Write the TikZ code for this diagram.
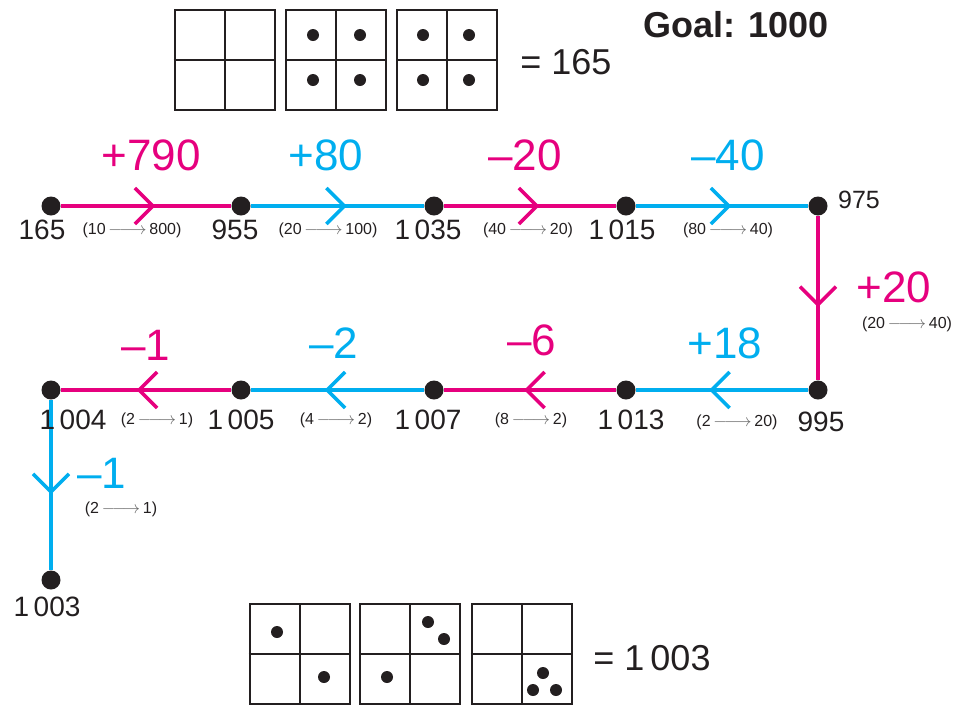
\documentclass[tikz,border=0pt]{standalone}
\usepackage{fontspec}
\setmainfont{Liberation Sans}
\usetikzlibrary{decorations.markings}
\definecolor{pinkc}{HTML}{E6007E}
\definecolor{bluec}{HTML}{00AEEF}
\definecolor{dotc}{HTML}{231F20}
\newcommand{\sarr}{\,\textcolor{black!60}{$\relbar\joinrel\longrightarrow$}\,}
\begin{document}
\begin{tikzpicture}[x=1pt,y=-1pt,
  dot/.style={circle,fill=dotc,inner sep=0pt,minimum size=19pt},
  bdot/.style={circle,fill=dotc,inner sep=0pt,minimum size=12pt},
  num/.style={font=\fontsize{28}{30}\selectfont, inner sep=0pt, text=dotc},
  big/.style={font=\fontsize{44}{46}\selectfont, inner sep=0pt},
  small/.style={font=\fontsize{16}{18}\selectfont, inner sep=0pt, text=dotc},
  seg/.style args={#1/#2}{line width=4pt, draw=#1, postaction={decorate},
    decoration={markings, mark=at position #2 with {\draw[#1, line width=3.5pt] (-18pt,18pt) -- (0pt,0pt) -- (-18pt,-18pt);}}},
  box/.style={draw=dotc, line width=2pt, minimum size=100pt, inner sep=0pt},
  cross/.style={draw=dotc, line width=2pt}
]
\useasboundingbox (0,0) rectangle (959,705);

% top boxes
\foreach \n/\cx in {a/224.5,b/336,c/447}{
  \node[box] (t\n) at (\cx,60) {};
  \draw[cross] (t\n.north) -- (t\n.south);
  \draw[cross] (t\n.west) -- (t\n.east);
}
\foreach \x/\y in {313/35,360/35,313/80,360/80,423/35,469/35,423/80,469/80}
  \node[bdot] at (\x,\y) {};
\node[font=\fontsize{36}{38}\selectfont, text=dotc, inner sep=0pt] (eq1) at (566,62) {= 165};
\node[font=\bfseries\fontsize{36}{38}\selectfont, text=dotc, inner sep=0pt] (goal) at (736,25) {Goal: 1000};

% bottom boxes
\foreach \n/\cx in {a/299.5,b/410,c/521.5}{
  \node[box] (b\n) at (\cx,654) {};
  \draw[cross] (b\n.north) -- (b\n.south);
  \draw[cross] (b\n.west) -- (b\n.east);
}
\foreach \x/\y in {277/632,324/677,428/622,444/639,387/677,543/673,533/690,556/690}
  \node[bdot] at (\x,\y) {};
\node[font=\fontsize{36}{38}\selectfont, text=dotc, inner sep=0pt] (eq2) at (652,658) {= 1\,003};

% dots
\node[dot] (p1) at (51,206) {};
\node[dot] (p2) at (241,206) {};
\node[dot] (p3) at (434,206) {};
\node[dot] (p4) at (626,206) {};
\node[dot] (p5) at (818,206) {};
\node[dot] (q1) at (818,390) {};
\node[dot] (q2) at (626,390) {};
\node[dot] (q3) at (434,390) {};
\node[dot] (q4) at (241,390) {};
\node[dot] (q5) at (51,390) {};
\node[dot] (r1) at (51,580) {};

% segments
\draw[seg=pinkc/0.54] (p1) -- (p2);
\draw[seg=bluec/0.54] (p2) -- (p3);
\draw[seg=pinkc/0.54] (p3) -- (p4);
\draw[seg=bluec/0.54] (p4) -- (p5);
\draw[seg=pinkc/0.54] (p5) -- (q1);
\draw[seg=bluec/0.56] (q1) -- (q2);
\draw[seg=pinkc/0.52] (q2) -- (q3);
\draw[seg=bluec/0.56] (q3) -- (q4);
\draw[seg=pinkc/0.54] (q4) -- (q5);
\draw[seg=bluec/0.54] (q5) -- (r1);

% big labels
\node[big, text=pinkc] (l1) at (151,155) {+790};
\node[big, text=bluec] (l2) at (326,155) {+80};
\node[big, text=pinkc] (l3) at (525,155) {–20};
\node[big, text=bluec] (l4) at (728,155) {–40};
\node[big, text=pinkc] (l5) at (894,287) {+20};
\node[big, text=bluec] (l6) at (725,343) {+18};
\node[big, text=pinkc] (l7) at (532,340) {–6};
\node[big, text=bluec] (l8) at (334,343) {–2};
\node[big, text=pinkc] (l9) at (146,345) {–1};
\node[big, text=bluec] (l10) at (102,473) {–1};

% numbers
\node[num] (n1) at (42,230) {165};
\node[num] (n2) at (235,230) {955};
\node[num] (n3) at (428,230) {1\,035};
\node[num] (n4) at (622,230) {1\,015};
\node[num, font=\fontsize{25}{27}\selectfont] (n5) at (859,200) {975};
\node[num] (n6) at (821,422) {995};
\node[num] (n7) at (631,420) {1\,013};
\node[num] (n8) at (428,420) {1\,007};
\node[num] (n9) at (241,420) {1\,005};
\node[num] (n10) at (73,420) {1\,004};
\node[num] (n11) at (47,607) {1\,003};

% small labels
\node[small] (s1) at (132,230) {(10\sarr 800)};
\node[small] (s2) at (328,230) {(20\sarr 100)};
\node[small] (s3) at (528,230) {(40\sarr 20)};
\node[small] (s4) at (728,230) {(80\sarr 40)};
\node[small] (s5) at (907,324) {(20\sarr 40)};
\node[small] (s6) at (737,422) {(2\sarr 20)};
\node[small] (s7) at (531,420) {(8\sarr 2)};
\node[small] (s8) at (336,420) {(4\sarr 2)};
\node[small] (s9) at (157,420) {(2\sarr 1)};
\node[small] (s10) at (121,509) {(2\sarr 1)};
\end{tikzpicture}
\end{document}
